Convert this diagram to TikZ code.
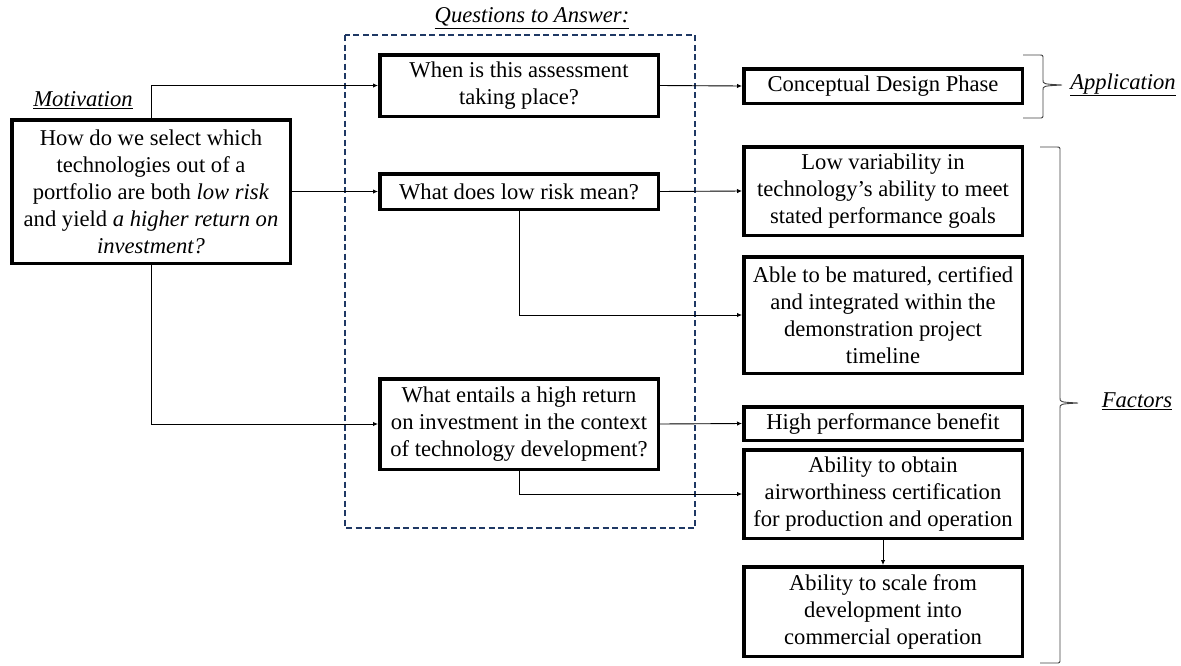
\documentclass[tikz,border=0pt]{standalone}
\usepackage{fontspec}
\setmainfont{Liberation Serif}
\usetikzlibrary{arrows.meta}
\definecolor{navy}{HTML}{1F3864}
\begin{document}
\begin{tikzpicture}[x=1pt,y=-1pt,
  every node/.style={font=\fontsize{22.6}{27}\selectfont, align=center, inner sep=0pt},
  box/.style={draw=black, line width=3.5pt, fill=white, minimum width=278.5pt},
  link/.style={line width=0.9pt, -{Latex[length=5pt,width=4.5pt]}},
  brace/.style={line width=0.9pt, draw=black!75},
  heading/.style={font=\itshape\fontsize{22.6}{27}\selectfont}]
\useasboundingbox (0,0) rectangle (1181,665);

% frame grouping the questions
\draw[navy, line width=2pt, dash pattern=on 6pt off 3.5pt] (345,35) rectangle (695,528);

% headings
\node[heading] (hq) at (532,18) {\underline{Questions to Answer:}};
\node[heading] (hm) at (83,100) {\underline{Motivation}};
\node[heading] (ha) at (1123,85) {\underline{Application}};
\node[heading] (hf) at (1137,401) {\underline{Factors}};

% motivation
\node[box, minimum height=143.5pt] (mot) at (151,191.5)
  {How do we select which\\technologies out of a\\portfolio are both \textit{low risk}\\and yield \textit{a higher return on}\\\textit{investment?}};

% questions
\node[box, minimum height=61.5pt] (q1) at (519,85.5) {When is this assessment\\taking place?};
\node[box, minimum height=35.5pt] (q2) at (519,191.5) {What does low risk mean?};
\node[box, minimum height=90.5pt] (q3) at (519,424) {What entails a high return\\on investment in the context\\of technology development?};

% answers
\node[box, minimum height=34.5pt] (r1) at (883,86) {Conceptual Design Phase};
\node[box, minimum height=88.5pt] (r2) at (883,191) {Low variability in\\technology’s ability to meet\\stated performance goals};
\node[box, minimum height=116.5pt] (r3) at (883,315) {Able to be matured, certified\\and integrated within the\\demonstration project\\timeline};
\node[box, minimum height=33.5pt] (r4) at (883,423.5) {High performance benefit};
\node[box, minimum height=88.5pt] (r5) at (883,494) {Ability to obtain\\airworthiness certification\\for production and operation};
\node[box, minimum height=89.5pt] (r6) at (883,611.5) {Ability to scale from\\development into\\commercial operation};

% connectors
\draw[link] (mot.north) |- (q1.west);
\draw[link] (mot.east) -- (q2.west);
\draw[link] (mot.south) |- (q3.west);
\draw[link] (q1.east) -- (r1.west);
\draw[link] (q2.east) -- (r2.west);
\draw[link] (q2.south) |- (r3.west);
\draw[link] (q3.east) -- (r4.west);
\draw[link] (q3.south) |- (r5.west);
\draw[link] (r5.south) -- (r6.north);

% braces
\draw[brace] (1023,55) -- (1039,55) .. controls (1043,55) .. (1043,59) -- (1043,80)
  .. controls (1043,84) .. (1062,85) .. controls (1043,86) .. (1043,90) -- (1043,114)
  .. controls (1043,118) .. (1039,118) -- (1023,118);
\draw[brace] (1040,147) -- (1056,147) .. controls (1060,147) .. (1060,151) -- (1060,398)
  .. controls (1060,402) .. (1078,403) .. controls (1060,404) .. (1060,408) -- (1060,659)
  .. controls (1060,663) .. (1056,663) -- (1040,663);
\end{tikzpicture}
\end{document}
